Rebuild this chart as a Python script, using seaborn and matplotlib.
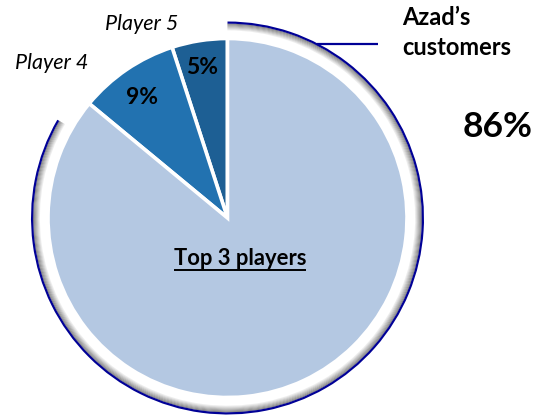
import matplotlib
matplotlib.use("Agg")
import matplotlib.pyplot as plt
from matplotlib.patches import Wedge
import seaborn as sns

# data
players = ["Player 5", "Player 4", "Top 3 players"]
shares = [5, 9, 86]
pct_labels = ["5%", "9%", ""]
slice_colors = ["#1d5f94", "#2272b0", "#b4c8e2"]
callout_title = ["Azad\u2019s", "customers"]
callout_value = "86%"

sns.set_theme(style="white")
plt.rcParams["font.family"] = ["Lato", "DejaVu Sans"]
plt.rcParams["text.color"] = "black"

W, H = 537, 419
fig = plt.figure(figsize=(W / 100, H / 100), dpi=100)
ax = fig.add_axes([0, 0, 1, 1])


def Y(y):
    return H - y


cx, cy, r = 227.5, Y(218), 179.5

ax.pie(shares, colors=slice_colors, startangle=90, counterclock=True,
       center=(cx, cy), radius=r, frame=True,
       wedgeprops=dict(edgecolor="white", linewidth=2.6))
ax.set_xlim(0, W)
ax.set_ylim(0, H)
ax.set_aspect("equal")
ax.axis("off")

# bevelled ring round the "Top 3 players" slice
t1, t2 = 150, 450
grad = sns.blend_palette(["white", "#8a8a8a"], 8)
r_in, r_out = 187.0, 194.5
step = (r_out - r_in) / len(grad)
for i, c in enumerate(grad):
    ax.add_patch(Wedge((cx, cy), r_in + step * (i + 1), t1, t2, width=step + 0.3,
                       facecolor=c, edgecolor="none"))
ax.add_patch(Wedge((cx, cy), 196.5, t1, t2, width=2.2, facecolor="#000096", edgecolor="none"))

# callout line
ax.plot([317, 378], [Y(44), Y(44)], color="#000096", lw=1.6, solid_capstyle="butt")

ax.text(402, Y(25), callout_title[0], ha="left", va="baseline", fontsize=17,
        fontweight="bold", color="black")
ax.text(402, Y(55), callout_title[1], ha="left", va="baseline", fontsize=17,
        fontweight="bold", color="black")
ax.text(463, Y(137), callout_value, ha="left", va="baseline", fontsize=25.5,
        fontweight="bold", color="black")

# slice labels
ax.text(202, Y(68), pct_labels[0], ha="center", va="center", fontsize=16.5,
        fontweight="bold", color="black")
ax.text(142, Y(97), pct_labels[1], ha="center", va="center", fontsize=16.5,
        fontweight="bold", color="black")
ax.text(141.5, Y(30), players[0], ha="center", va="baseline", fontsize=15.5,
        style="italic", color="black")
ax.text(51.5, Y(69), players[1], ha="center", va="baseline", fontsize=15.5,
        style="italic", color="black")

top = ax.text(240, Y(265), players[2], ha="center", va="baseline", fontsize=15.8,
              fontweight="bold", color="black")

fig.canvas.draw()
bb = top.get_window_extent().transformed(ax.transData.inverted())
ax.plot([bb.x0, bb.x1], [Y(269.5), Y(269.5)], color="black", lw=1.4, solid_capstyle="butt")

fig.savefig("out.png", dpi=100, facecolor="white")
